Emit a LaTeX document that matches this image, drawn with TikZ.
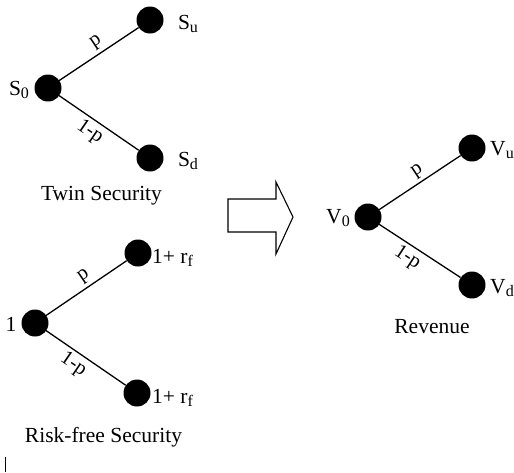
\documentclass[tikz,border=0pt]{standalone}
\usepackage{fontspec}
\setmainfont{Liberation Serif}
\newcommand{\lo}[1]{\raisebox{-0.35ex}{\fontsize{16}{18}\selectfont #1}}
\begin{document}
\begin{tikzpicture}[x=1pt,y=-1pt,
  dot/.style={circle,fill=black,minimum size=27pt,inner sep=0pt},
  lbl/.style={font=\fontsize{21.5}{24}\selectfont,inner sep=0pt},
  elbl/.style={font=\fontsize{20.5}{23}\selectfont,sloped,inner sep=3pt},
  br/.style={line width=1.3pt}]
\useasboundingbox (0,0) rectangle (514,472);
% Twin security
\node[dot] (s0) at (48,88) {};
\node[dot] (su) at (150,20) {};
\node[dot] (sd) at (150,158) {};
\draw[br] (s0.center) -- node[elbl,above,pos=0.6] {p} (su);
\draw[br] (s0.center) -- node[elbl,below,pos=0.54] {1-p} (sd);
\node[lbl] (s0l) at (19,90) {S\lo{0}};
\node[lbl] (sul) at (188,24) {S\lo{u}};
\node[lbl] (sdl) at (188,161) {S\lo{d}};
\node[lbl] (twin) at (101.5,196) {Twin Security};
% Risk-free security
\node[dot] (r0) at (35,323) {};
\node[dot] (ru) at (138,253) {};
\node[dot] (rd) at (137,393) {};
\draw[br] (r0.center) -- node[elbl,above,pos=0.6] {p} (ru);
\draw[br] (r0.center) -- node[elbl,below,pos=0.5] {1-p} (rd);
\node[lbl] (r0l) at (11,324) {1};
\node[lbl,anchor=west] (rul) at (152,258) {1+ r\lo{f}};
\node[lbl,anchor=west] (rdl) at (152,398) {1+ r\lo{f}};
\node[lbl] (risk) at (103.5,437) {Risk-free Security};
\coordinate (bt) at (5,457);
\coordinate (bb) at (5,472);
\draw[line width=1pt] (bt) -- (bb);
% Arrow
\draw[line width=1.1pt] (228,199) -- (276,199) -- (276,182) -- (293,217) -- (276,254) -- (276,232) -- (228,232) -- cycle;
% Revenue
\node[dot] (v0) at (368,217) {};
\node[dot] (vu) at (472,148) {};
\node[dot] (vd) at (472,285) {};
\draw[br] (v0.center) -- node[elbl,above,pos=0.6] {p} (vu);
\draw[br] (v0.center) -- node[elbl,below,pos=0.5] {1-p} (vd);
\node[lbl] (v0l) at (338,218) {V\lo{0}};
\node[lbl] (vul) at (502,150) {V\lo{u}};
\node[lbl] (vdl) at (502,288) {V\lo{d}};
\node[lbl] (rev) at (432,327) {Revenue};
\end{tikzpicture}
\end{document}
